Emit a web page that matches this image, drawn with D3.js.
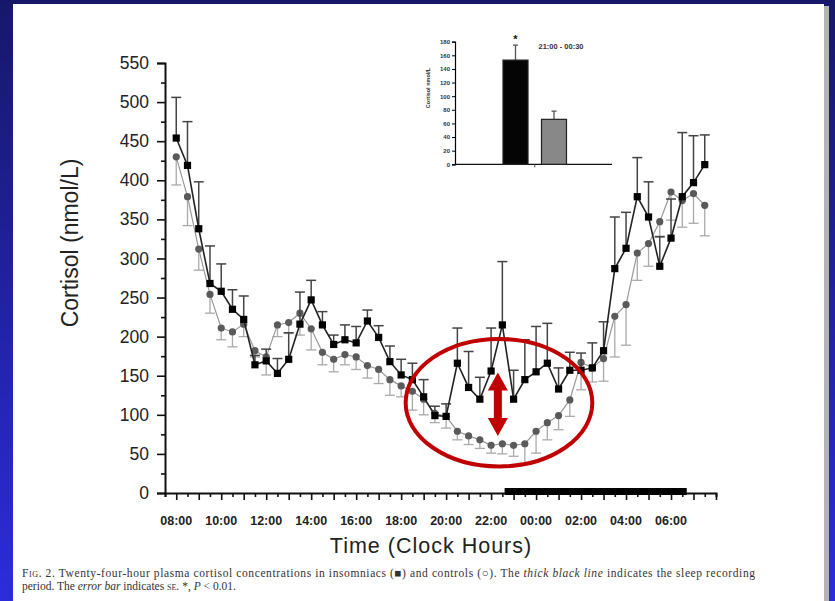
<!DOCTYPE html>
<html>
<head>
<meta charset="utf-8">
<script src="https://cdn.jsdelivr.net/npm/d3@7"></script>
<style>
  body { margin: 0; background: #1c1c80; }
  svg { display: block; }
</style>
</head>
<body>
<svg id="chart" width="835" height="601"></svg>
<script>
// half-hour samples, hours after 08:00
var hours = d3.range(0, 24, 0.5);
var insomniacs = [454, 419, 338, 268, 258, 235, 222, 164, 169, 153,
                  171, 216, 247, 215, 190, 196, 192, 220, 199, 168,
                  151, 145, 123, 99, 98, 166, 135, 120, 156, 215,
                  120, 145, 155, 166, 133, 157, 157, 160, 182, 287,
                  313, 379, 353, 290, 326, 379, 397, 420];
var insomniacsSE = [52, 56, 60, 48, 35, 25, 30, 12, 15, 19,
                    34, 41, 25, 17, 12, 19, 21, 14, 15, 20,
                    20, 21, 22, 12, 16, 45, 46, 28, 55, 81,
                    37, 51, 58, 51, 27, 23, 22, 32, 37, 66,
                    46, 50, 45, 38, 50, 82, 60, 38];
var controls = [430, 379, 312, 254, 211, 206, 216, 182, 174, 215,
                218, 230, 210, 180, 171, 177, 174, 163, 158, 145,
                137, 130, 120, 102, 98, 79, 73, 68, 61, 63,
                61, 63, 79, 90, 99, 119, 167, 160, 172, 226,
                241, 307, 319, 347, 385, 374, 383, 368];
var controlsSE = [36, 37, 27, 24, 15, 19, 16, 8, 23, 15,
                  14, 28, 27, 16, 16, 13, 16, 16, 18, 20,
                  14, 24, 20, 12, 15, 11, 11, 11, 10, 13,
                  14, 25, 28, 22, 18, 21, 35, 18, 29, 52,
                  52, 35, 29, 20, 36, 34, 38, 39];
var hourLabels = ["08:00", "10:00", "12:00", "14:00", "16:00", "18:00",
                  "20:00", "22:00", "00:00", "02:00", "04:00", "06:00"];
var yTicks = d3.range(0, 551, 50);
var sleepPeriod = [14.6, 22.7];

// inset: 21:00 - 00:30 means
var insetGroups = ["Insomniacs", "Controls"];
var insetMeans = [153, 66];
var insetSE = [22, 12];
var insetTicks = d3.range(0, 181, 20);

var svg = d3.select("#chart");

// slide background
var defs = svg.append("defs");
var grad = defs.append("linearGradient")
    .attr("id", "bg").attr("x1", 0).attr("y1", 0).attr("x2", 0).attr("y2", 1);
grad.append("stop").attr("offset", "0%").attr("stop-color", "#17176a");
grad.append("stop").attr("offset", "100%").attr("stop-color", "#2c2cdc");
svg.append("rect").attr("width", 835).attr("height", 601).attr("fill", "url(#bg)");
svg.append("rect").attr("x", 824).attr("y", 6).attr("width", 5).attr("height", 595).attr("fill", "#b4b4b8");
svg.append("rect").attr("x", 13).attr("y", 4).attr("width", 811).attr("height", 597).attr("fill", "#fff");

var x = d3.scaleLinear().domain([-0.5, 24]).range([165, 716]);
var y = d3.scaleLinear().domain([0, 550]).range([493, 63]);

// y axis
var yAxis = svg.append("g")
    .attr("transform", "translate(165,0)")
    .call(d3.axisLeft(y).tickValues(yTicks).tickSize(8).tickPadding(8));
svg.append("g")
    .attr("transform", "translate(165,0)")
    .call(d3.axisLeft(y).tickValues(d3.range(25, 550, 50)).tickSize(4).tickFormat(""))
    .call(g => g.select(".domain").remove());
yAxis.selectAll("text")
    .attr("font-family", "Liberation Sans, Arial, sans-serif")
    .attr("font-size", 17.5).attr("fill", "#222");

// x axis
svg.append("g")
    .attr("transform", "translate(0,493)")
    .call(d3.axisBottom(x).tickValues(d3.range(-0.5, 24.01, 1)).tickSize(4).tickFormat(""));
svg.append("g")
    .attr("transform", "translate(0,493)")
    .call(d3.axisBottom(x).tickValues(d3.range(0, 24.01, 1)).tickSize(7).tickFormat(""))
    .call(g => g.select(".domain").remove());
svg.selectAll(".domain").attr("stroke", "#111").attr("stroke-width", 2);
svg.selectAll(".tick line").attr("stroke", "#111").attr("stroke-width", 1.6);

svg.append("g").selectAll("text")
    .data(hourLabels)
    .enter().append("text")
    .attr("x", (d, i) => x(i * 2))
    .attr("y", 525)
    .attr("text-anchor", "middle")
    .attr("font-family", "Liberation Sans, Arial, sans-serif")
    .attr("font-weight", "bold")
    .attr("font-size", 12.5)
    .attr("fill", "#222")
    .text(d => d);

// sleep recording period
svg.append("rect")
    .attr("x", x(sleepPeriod[0]))
    .attr("y", 488)
    .attr("width", x(sleepPeriod[1]) - x(sleepPeriod[0]))
    .attr("height", 7)
    .attr("fill", "#000");

// axis titles
svg.append("text")
    .attr("transform", "translate(78,243) rotate(-90)")
    .attr("text-anchor", "middle")
    .attr("font-family", "Liberation Sans, Arial, sans-serif")
    .attr("font-size", 23)
    .attr("fill", "#222")
    .text("Cortisol (nmol/L)");
svg.append("text")
    .attr("x", 431).attr("y", 553)
    .attr("text-anchor", "middle")
    .attr("font-family", "Liberation Sans, Arial, sans-serif")
    .attr("font-size", 21.5)
    .attr("letter-spacing", 1)
    .attr("fill", "#222")
    .text("Time (Clock Hours)");

// controls: error bars (down), line, dots
var ctrl = svg.append("g");
var ctrlErr = ctrl.selectAll(".err").data(hours).enter().append("g");
ctrlErr.append("line")
    .attr("x1", d => x(d)).attr("x2", d => x(d))
    .attr("y1", (d, i) => y(controls[i])).attr("y2", (d, i) => y(controls[i] - controlsSE[i]))
    .attr("stroke", "#aaa").attr("stroke-width", 1.3);
ctrlErr.append("line")
    .attr("x1", d => x(d) - 5).attr("x2", d => x(d) + 5)
    .attr("y1", (d, i) => y(controls[i] - controlsSE[i])).attr("y2", (d, i) => y(controls[i] - controlsSE[i]))
    .attr("stroke", "#aaa").attr("stroke-width", 1.3);
ctrl.append("path")
    .datum(hours)
    .attr("fill", "none").attr("stroke", "#999").attr("stroke-width", 1.2)
    .attr("d", d3.line().x(d => x(d)).y((d, i) => y(controls[i])));
ctrl.selectAll("circle").data(hours).enter().append("circle")
    .attr("cx", d => x(d)).attr("cy", (d, i) => y(controls[i]))
    .attr("r", 3.6).attr("fill", "#5a5a5a");

// insomniacs: error bars (up), line, squares
var ins = svg.append("g");
var insErr = ins.selectAll(".err").data(hours).enter().append("g");
insErr.append("line")
    .attr("x1", d => x(d)).attr("x2", d => x(d))
    .attr("y1", (d, i) => y(insomniacs[i])).attr("y2", (d, i) => y(insomniacs[i] + insomniacsSE[i]))
    .attr("stroke", "#444").attr("stroke-width", 1.5);
insErr.append("line")
    .attr("x1", d => x(d) - 5).attr("x2", d => x(d) + 5)
    .attr("y1", (d, i) => y(insomniacs[i] + insomniacsSE[i])).attr("y2", (d, i) => y(insomniacs[i] + insomniacsSE[i]))
    .attr("stroke", "#444").attr("stroke-width", 1.5);
ins.append("path")
    .datum(hours)
    .attr("fill", "none").attr("stroke", "#222").attr("stroke-width", 1.6)
    .attr("d", d3.line().x(d => x(d)).y((d, i) => y(insomniacs[i])));
ins.selectAll("rect").data(hours).enter().append("rect")
    .attr("x", d => x(d) - 3.6).attr("y", (d, i) => y(insomniacs[i]) - 3.6)
    .attr("width", 7.2).attr("height", 7.2).attr("fill", "#000");

// red annotation: ellipse and double arrow
var ex = [10.2, 18.5], ev = [34, 197];
svg.append("ellipse")
    .attr("cx", (x(ex[0]) + x(ex[1])) / 2)
    .attr("cy", (y(ev[0]) + y(ev[1])) / 2)
    .attr("rx", (x(ex[1]) - x(ex[0])) / 2)
    .attr("ry", (y(ev[0]) - y(ev[1])) / 2)
    .attr("fill", "none").attr("stroke", "#c00000").attr("stroke-width", 4);

var ax = x(14.3), aTop = y(154), aBot = y(73);
var arrow = d3.path();
arrow.moveTo(ax, aTop);
arrow.lineTo(ax + 10, aTop + 18);
arrow.lineTo(ax + 4, aTop + 18);
arrow.lineTo(ax + 4, aBot - 18);
arrow.lineTo(ax + 10, aBot - 18);
arrow.lineTo(ax, aBot);
arrow.lineTo(ax - 10, aBot - 18);
arrow.lineTo(ax - 4, aBot - 18);
arrow.lineTo(ax - 4, aTop + 18);
arrow.lineTo(ax - 10, aTop + 18);
arrow.closePath();
svg.append("path").attr("d", arrow.toString()).attr("fill", "#c00000");

// inset bar chart
var iy = d3.scaleLinear().domain([0, 180]).range([164.3, 41.7]);
var ix = d3.scalePoint().domain(insetGroups).range([515.5, 554]);
var inset = svg.append("g");
var iAxis = inset.append("g")
    .attr("transform", "translate(455,0)")
    .call(d3.axisLeft(iy).tickValues(insetTicks).tickSize(3).tickPadding(2));
iAxis.selectAll("text").attr("font-family", "Liberation Sans, Arial, sans-serif")
    .attr("font-size", 6).attr("font-weight", "bold").attr("fill", "#333");
iAxis.select(".domain").attr("stroke-width", 1.2);
inset.append("line")
    .attr("x1", 455).attr("x2", 612).attr("y1", iy(0)).attr("y2", iy(0))
    .attr("stroke", "#111").attr("stroke-width", 1.2);
inset.append("line")
    .attr("x1", (ix("Insomniacs") + ix("Controls")) / 2).attr("x2", (ix("Insomniacs") + ix("Controls")) / 2)
    .attr("y1", iy(0)).attr("y2", iy(0) + 3).attr("stroke", "#444");
inset.append("text")
    .attr("transform", "translate(430," + 88 + ") rotate(-90)")
    .attr("text-anchor", "middle")
    .attr("font-family", "Liberation Sans, Arial, sans-serif")
    .attr("font-size", 5.5).attr("font-weight", "bold").attr("fill", "#333")
    .text("Cortisol nmol/L");
inset.selectAll(".ierr").data(insetGroups).enter().append("line")
    .attr("x1", d => ix(d)).attr("x2", d => ix(d))
    .attr("y1", (d, i) => iy(insetMeans[i])).attr("y2", (d, i) => iy(insetMeans[i] + insetSE[i]))
    .attr("stroke", "#555").attr("stroke-width", 1.3);
inset.selectAll(".icap").data(insetGroups).enter().append("line")
    .attr("x1", d => ix(d) - 2.5).attr("x2", d => ix(d) + 2.5)
    .attr("y1", (d, i) => iy(insetMeans[i] + insetSE[i])).attr("y2", (d, i) => iy(insetMeans[i] + insetSE[i]))
    .attr("stroke", "#555").attr("stroke-width", 1.3);
inset.selectAll(".ibar").data(insetGroups).enter().append("rect")
    .attr("x", d => ix(d) - 12.5)
    .attr("y", (d, i) => iy(insetMeans[i]))
    .attr("width", 25)
    .attr("height", (d, i) => iy(0) - iy(insetMeans[i]))
    .attr("fill", (d, i) => i === 0 ? "#050505" : "#888")
    .attr("stroke", "#222").attr("stroke-width", 1.2);
inset.append("text")
    .attr("x", ix("Insomniacs")).attr("y", iy(insetMeans[0] + insetSE[0]) - 2)
    .attr("text-anchor", "middle")
    .attr("font-family", "Liberation Sans, Arial, sans-serif")
    .attr("font-size", 11).attr("font-weight", "bold").attr("fill", "#111")
    .text("*");
inset.append("text")
    .attr("x", 561).attr("y", 48.5)
    .attr("text-anchor", "middle")
    .attr("font-family", "Liberation Sans, Arial, sans-serif")
    .attr("font-size", 7.5).attr("font-weight", "bold").attr("fill", "#333")
    .text("21:00 - 00:30");

// caption
var cap = svg.append("g")
    .attr("font-family", "Liberation Serif, Times New Roman, serif")
    .attr("font-size", 11.5).attr("fill", "#333");
var l1 = cap.append("text").attr("x", 22).attr("y", 577)
    .attr("textLength", 733).attr("lengthAdjust", "spacing");
l1.append("tspan").style("font-variant", "small-caps").text("Fig.");
l1.append("tspan").text(" 2. Twenty-four-hour plasma cortisol concentrations in insomniacs (\u25A0) and controls (\u25CB). The ");
l1.append("tspan").attr("font-style", "italic").text("thick black line");
l1.append("tspan").text(" indicates the sleep recording");
var l2 = cap.append("text").attr("x", 22).attr("y", 590);
l2.append("tspan").text("period. The ");
l2.append("tspan").attr("font-style", "italic").text("error bar");
l2.append("tspan").text(" indicates ");
l2.append("tspan").style("font-variant", "small-caps").text("se.");
l2.append("tspan").text(" *, ");
l2.append("tspan").attr("font-style", "italic").text("P");
l2.append("tspan").text(" < 0.01.");
</script>
</body>
</html>
